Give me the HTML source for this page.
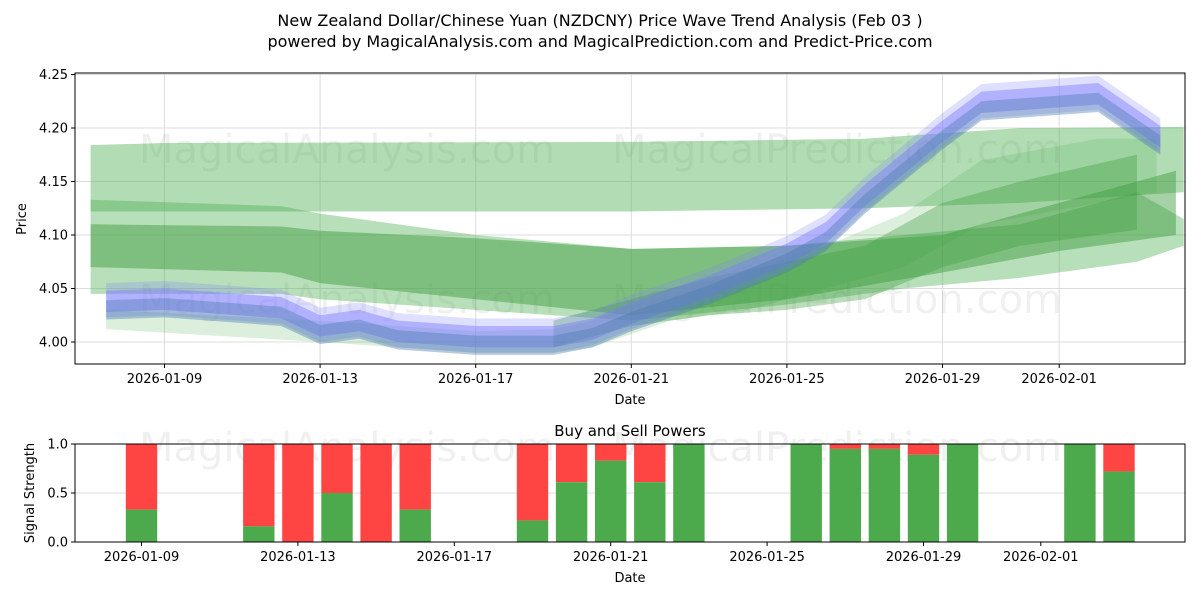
<!DOCTYPE html>
<html><head><meta charset="utf-8"><style>
body{margin:0;background:#fff;}
svg{display:block;font-family:"DejaVu Sans","Liberation Sans",sans-serif;}
</style></head><body>
<svg id="c" width="1200" height="600" viewBox="0 0 1200 600">
<text x="600" y="26" text-anchor="middle" font-size="16">New Zealand Dollar/Chinese Yuan (NZDCNY) Price Wave Trend Analysis (Feb 03 )</text>
<text x="600" y="47" text-anchor="middle" font-size="16">powered by MagicalAnalysis.com and MagicalPrediction.com and Predict-Price.com</text>
<g id="topPanel"></g>
<g id="botPanel"></g>
</svg>
<script>
// x values are days from 2026-01-09
const tickDays=[0,4,8,12,16,20,23];
const tickLabels=["2026-01-09","2026-01-13","2026-01-17","2026-01-21","2026-01-25","2026-01-29","2026-02-01"];
const priceTicks=[4.00,4.05,4.10,4.15,4.20,4.25];
const bandA=[[-1.9,4.122,4.184],[0,4.122,4.186],[12,4.122,4.187],[18,4.125,4.19],[22,4.13,4.20],[26.2,4.14,4.201]];
const bandB=[[-1.9,4.045,4.133],[3,4.045,4.127],[4,4.04,4.12],[8,4.03,4.10],[12,4.02,4.087],[16,4.035,4.09],[19,4.05,4.10],[22,4.06,4.11],[25,4.075,4.14],[26.2,4.09,4.115]];
const bandC=[[-1.9,4.07,4.11],[3,4.065,4.108],[4,4.055,4.104],[8,4.04,4.097],[12,4.025,4.087],[16,4.04,4.09],[20,4.065,4.10],[23,4.085,4.13],[26,4.10,4.16]];
const bandD=[[10,3.995,4.02],[12,4.015,4.04],[14,4.025,4.06],[16,4.03,4.075],[18,4.04,4.09],[20,4.07,4.13],[22,4.09,4.15],[25,4.105,4.175]];
const bandE=[[-1.5,4.012,4.03],[4,4.0,4.02],[8,3.99,4.01],[10,3.99,4.012],[11,3.995,4.02],[13,4.02,4.05],[15,4.03,4.065],[17,4.05,4.09],[19,4.07,4.12],[21,4.11,4.17],[24,4.13,4.19],[25.5,4.14,4.19]];
const blueMid=[[-1.5,4.036],[0,4.038],[3,4.03],[4,4.013],[5,4.018],[6,4.008],[8,4.003],[10,4.003],[11,4.01],[12,4.025],[14,4.05],[16,4.08],[17,4.10],[18,4.135],[19,4.165],[20,4.195],[21,4.222],[24,4.23],[25,4.205],[25.6,4.19]];
const sigDays=[0,3,4,5,6,7,10,11,12,13,14,17,18,19,20,21,24,25];
const buyVals=[0.33,0.16,0,0.5,0,0.33,0.22,0.61,0.83,0.61,1,1,0.95,0.95,0.89,1,1,0.72];
const sigTicks=[0,0.5,1.0];

const NS="http://www.w3.org/2000/svg";
function mk(p,t,a){const e=document.createElementNS(NS,t);for(const k in a)e.setAttribute(k,a[k]);p.appendChild(e);return e;}
const T={l:75,r:1185,t:73,b:364};
const xT=d=>164.5+38.9*d, yT=v=>342-(v-4.0)/0.05*53.5;
const B={l:75,r:1185,t:444,b:542};
const xB=d=>141.5+39.1*d, yB=v=>542-v*98;
const topG=document.getElementById('topPanel'), botG=document.getElementById('botPanel');

priceTicks.forEach(v=>{const y=yT(v);
 const g=mk(topG,'line',{x1:T.l,x2:T.r,y1:y,y2:y,stroke:'#ddd','stroke-width':1});
 
 
 mk(topG,'line',{x1:T.l-4,x2:T.l,y1:y,y2:y,stroke:'#000'});
 const t=mk(topG,'text',{x:T.l-7,y:y+4.5,'text-anchor':'end','font-size':13});t.textContent=v.toFixed(2);
 
 
});
tickDays.forEach((d,i)=>{const x=xT(d);
 mk(topG,'line',{x1:x,x2:x,y1:T.t,y2:T.b,stroke:'#ddd'});
 mk(topG,'line',{x1:x,x2:x,y1:T.b,y2:T.b+4,stroke:'#000'});
 const t=mk(topG,'text',{x:x,y:T.b+19,'text-anchor':'middle','font-size':13});t.textContent=tickLabels[i];
 
 
});
function wm(p,y){[["MagicalAnalysis.com",347],["MagicalPrediction.com",837]].forEach(a=>{const t=mk(p,'text',{x:a[1],y:y,'text-anchor':'middle','font-size':40,fill:'rgba(0,0,0,0.06)'});t.textContent=a[0];
 
 });}
wm(topG,163);wm(topG,313);
function band(arr,fill,op,name){
 const up=arr.map(p=>xT(p[0])+','+yT(p[2])), lo=arr.slice().reverse().map(p=>xT(p[0])+','+yT(p[1]));
 const e=mk(topG,'polygon',{points:up.concat(lo).join(' '),fill:fill,'fill-opacity':op});
 
 
}
band(bandA,'#4caf50',0.43,'wave-band-upper');
band(bandB,'#4caf50',0.4,'wave-band-wide');
band(bandC,'#3a9a3a',0.45,'wave-band-mid');
band(bandE,'#4caf50',0.2,'wave-band-lower');
band(bandD,'#3a9a3a',0.35,'wave-band-rising');
function blue(off,w,fill,op,name){
 const arr=blueMid.map(p=>[p[0],p[1]+off-w,p[1]+off+w]);band(arr,fill,op,name);}
blue(0.003,0.016,'#8080ff',0.25,'price-wave-outer');
blue(0.002,0.01,'#7a7aff',0.45,'price-wave-violet');
blue(-0.006,0.009,'#4a7ab0',0.4,'price-wave-steel');
mk(topG,'rect',{x:T.l,y:T.t,width:T.r-T.l,height:T.b-T.t,fill:'none',stroke:'#000'});
let lbl=mk(topG,'text',{x:630,y:404,'text-anchor':'middle','font-size':13});lbl.textContent='Date';

lbl=mk(topG,'text',{x:26,y:219,'text-anchor':'middle','font-size':13,transform:'rotate(-90 26 219)'});lbl.textContent='Price';


wm(botG,461);
sigTicks.forEach(v=>{const y=yB(v);
 mk(botG,'line',{x1:B.l,x2:B.r,y1:y,y2:y,stroke:'#ddd'});
 mk(botG,'line',{x1:B.l-4,x2:B.l,y1:y,y2:y,stroke:'#000'});
 const t=mk(botG,'text',{x:B.l-7,y:y+4.5,'text-anchor':'end','font-size':13});t.textContent=v.toFixed(1);
 
 
});
sigDays.forEach((d,i)=>{const x=xB(d)-15.7,bv=buyVals[i];
 const r=mk(botG,'rect',{x:x,y:yB(1),width:31.4,height:yB(bv)-yB(1),fill:'#ff4444'});
 
 
 const g=mk(botG,'rect',{x:x,y:yB(bv),width:31.4,height:yB(0)-yB(bv),fill:'#4caa4c'});
 
 
});
tickDays.forEach((d,i)=>{const x=xB(d);
 mk(botG,'line',{x1:x,x2:x,y1:B.b,y2:B.b+4,stroke:'#000'});
 const t=mk(botG,'text',{x:x,y:B.b+19,'text-anchor':'middle','font-size':13});t.textContent=tickLabels[i];
 
 
});
mk(botG,'rect',{x:B.l,y:B.t,width:B.r-B.l,height:B.b-B.t,fill:'none',stroke:'#000'});
lbl=mk(botG,'text',{x:630,y:436,'text-anchor':'middle','font-size':15});lbl.textContent='Buy and Sell Powers';

lbl=mk(botG,'text',{x:630,y:582,'text-anchor':'middle','font-size':13});lbl.textContent='Date';

lbl=mk(botG,'text',{x:34,y:493,'text-anchor':'middle','font-size':13,transform:'rotate(-90 34 493)'});lbl.textContent='Signal Strength';

</script>
</body></html>
